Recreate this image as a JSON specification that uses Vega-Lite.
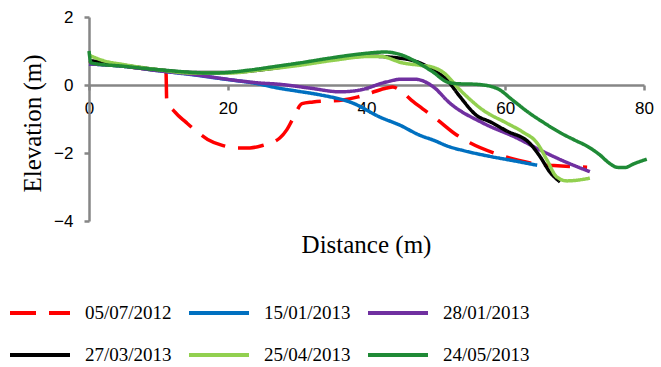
{
  "$schema": "https://vega.github.io/schema/vega-lite/v6.json",
  "width": 555,
  "height": 204,
  "autosize": "none",
  "padding": {"left": 89, "top": 17, "right": 17, "bottom": 146},
  "background": "white",
  "config": {
    "view": {"stroke": null},
    "axis": {
      "domainColor": "#868686",
      "domainWidth": 2.5,
      "tickColor": "#868686",
      "tickWidth": 2.5,
      "tickSize": 5,
      "grid": false,
      "labelFont": "Liberation Sans",
      "labelFontSize": 17,
      "labelColor": "#000000",
      "labelFlush": false,
      "titleFont": "Liberation Serif",
      "titleFontSize": 25,
      "titleFontWeight": "normal",
      "titleColor": "#000000"
    },
    "legend": {
      "title": null,
      "orient": "none",
      "direction": "horizontal",
      "legendX": -81,
      "legendY": 264,
      "columns": 3,
      "columnPadding": 9,
      "rowPadding": 0,
      "symbolType": "stroke",
      "symbolSize": 3600,
      "symbolStrokeWidth": 4,
      "labelOffset": 13,
      "labelFont": "Liberation Serif",
      "labelFontSize": 19,
      "labelColor": "#000000",
      "labelLimit": 200
    }
  },
  "data": {
    "values": [
      {"date": "05/07/2012", "d": 0, "e": 0.7},
      {"date": "05/07/2012", "d": 5, "e": 0.55},
      {"date": "05/07/2012", "d": 10, "e": 0.42},
      {"date": "05/07/2012", "d": 11.1, "e": 0.38},
      {"date": "05/07/2012", "d": 11.2, "e": -0.44},
      {"date": "05/07/2012", "d": 12.4, "e": -0.8},
      {"date": "05/07/2012", "d": 14, "e": -1.1},
      {"date": "05/07/2012", "d": 15.6, "e": -1.38},
      {"date": "05/07/2012", "d": 17.1, "e": -1.6},
      {"date": "05/07/2012", "d": 19, "e": -1.76},
      {"date": "05/07/2012", "d": 21.3, "e": -1.85},
      {"date": "05/07/2012", "d": 23.2, "e": -1.85},
      {"date": "05/07/2012", "d": 25, "e": -1.78},
      {"date": "05/07/2012", "d": 27.5, "e": -1.56},
      {"date": "05/07/2012", "d": 28.5, "e": -1.32},
      {"date": "05/07/2012", "d": 29.5, "e": -0.95},
      {"date": "05/07/2012", "d": 30.7, "e": -0.55},
      {"date": "05/07/2012", "d": 32.3, "e": -0.5},
      {"date": "05/07/2012", "d": 36.6, "e": -0.44},
      {"date": "05/07/2012", "d": 38.8, "e": -0.35},
      {"date": "05/07/2012", "d": 40.8, "e": -0.22},
      {"date": "05/07/2012", "d": 42.9, "e": -0.09},
      {"date": "05/07/2012", "d": 43.8, "e": -0.06},
      {"date": "05/07/2012", "d": 44.8, "e": -0.15},
      {"date": "05/07/2012", "d": 46.5, "e": -0.45},
      {"date": "05/07/2012", "d": 48.1, "e": -0.7},
      {"date": "05/07/2012", "d": 49.9, "e": -0.97},
      {"date": "05/07/2012", "d": 53, "e": -1.47},
      {"date": "05/07/2012", "d": 54.9, "e": -1.7},
      {"date": "05/07/2012", "d": 58.8, "e": -2.03},
      {"date": "05/07/2012", "d": 62, "e": -2.22},
      {"date": "05/07/2012", "d": 64.6, "e": -2.33},
      {"date": "05/07/2012", "d": 67, "e": -2.37},
      {"date": "05/07/2012", "d": 71.8, "e": -2.42},

      {"date": "15/01/2013", "d": 0, "e": 0.62},
      {"date": "15/01/2013", "d": 5, "e": 0.55},
      {"date": "15/01/2013", "d": 10, "e": 0.42},
      {"date": "15/01/2013", "d": 15, "e": 0.3},
      {"date": "15/01/2013", "d": 20, "e": 0.16},
      {"date": "15/01/2013", "d": 24, "e": 0.05},
      {"date": "15/01/2013", "d": 27, "e": -0.08},
      {"date": "15/01/2013", "d": 30, "e": -0.18},
      {"date": "15/01/2013", "d": 33.3, "e": -0.29},
      {"date": "15/01/2013", "d": 38, "e": -0.53},
      {"date": "15/01/2013", "d": 42, "e": -0.95},
      {"date": "15/01/2013", "d": 44.8, "e": -1.18},
      {"date": "15/01/2013", "d": 47.7, "e": -1.48},
      {"date": "15/01/2013", "d": 49.6, "e": -1.62},
      {"date": "15/01/2013", "d": 52, "e": -1.82},
      {"date": "15/01/2013", "d": 54, "e": -1.93},
      {"date": "15/01/2013", "d": 57.8, "e": -2.1},
      {"date": "15/01/2013", "d": 61, "e": -2.22},
      {"date": "15/01/2013", "d": 64.6, "e": -2.36},

      {"date": "28/01/2013", "d": 0, "e": 0.62},
      {"date": "28/01/2013", "d": 5, "e": 0.55},
      {"date": "28/01/2013", "d": 10, "e": 0.42},
      {"date": "28/01/2013", "d": 15, "e": 0.31},
      {"date": "28/01/2013", "d": 17.4, "e": 0.24},
      {"date": "28/01/2013", "d": 24.6, "e": 0.06},
      {"date": "28/01/2013", "d": 27.5, "e": 0.02},
      {"date": "28/01/2013", "d": 31.8, "e": -0.09},
      {"date": "28/01/2013", "d": 36.2, "e": -0.2},
      {"date": "28/01/2013", "d": 39, "e": -0.15},
      {"date": "28/01/2013", "d": 42.9, "e": 0.09},
      {"date": "28/01/2013", "d": 45, "e": 0.17},
      {"date": "28/01/2013", "d": 47, "e": 0.17},
      {"date": "28/01/2013", "d": 49.6, "e": -0.05},
      {"date": "28/01/2013", "d": 52, "e": -0.53},
      {"date": "28/01/2013", "d": 56.8, "e": -1.12},
      {"date": "28/01/2013", "d": 61.7, "e": -1.56},
      {"date": "28/01/2013", "d": 65, "e": -1.91},
      {"date": "28/01/2013", "d": 68, "e": -2.2},
      {"date": "28/01/2013", "d": 72.2, "e": -2.55},

      {"date": "27/03/2013", "d": 0, "e": 0.72},
      {"date": "27/03/2013", "d": 5, "e": 0.58},
      {"date": "27/03/2013", "d": 10, "e": 0.45},
      {"date": "27/03/2013", "d": 15, "e": 0.37},
      {"date": "27/03/2013", "d": 20, "e": 0.37},
      {"date": "27/03/2013", "d": 25, "e": 0.45},
      {"date": "27/03/2013", "d": 30, "e": 0.6},
      {"date": "27/03/2013", "d": 35, "e": 0.75},
      {"date": "27/03/2013", "d": 40, "e": 0.85},
      {"date": "27/03/2013", "d": 44.8, "e": 0.79},
      {"date": "27/03/2013", "d": 47.7, "e": 0.65},
      {"date": "27/03/2013", "d": 49.6, "e": 0.44},
      {"date": "27/03/2013", "d": 51.6, "e": 0.15},
      {"date": "27/03/2013", "d": 53.5, "e": -0.35},
      {"date": "27/03/2013", "d": 55.9, "e": -0.9},
      {"date": "27/03/2013", "d": 57.8, "e": -1.08},
      {"date": "27/03/2013", "d": 60.2, "e": -1.35},
      {"date": "27/03/2013", "d": 63.5, "e": -1.71},
      {"date": "27/03/2013", "d": 65, "e": -2.1},
      {"date": "27/03/2013", "d": 66.4, "e": -2.55},
      {"date": "27/03/2013", "d": 67.9, "e": -2.85},

      {"date": "25/04/2013", "d": 0, "e": 0.88},
      {"date": "25/04/2013", "d": 2, "e": 0.72},
      {"date": "25/04/2013", "d": 5, "e": 0.6},
      {"date": "25/04/2013", "d": 10, "e": 0.45},
      {"date": "25/04/2013", "d": 15, "e": 0.35},
      {"date": "25/04/2013", "d": 20, "e": 0.35},
      {"date": "25/04/2013", "d": 25, "e": 0.45},
      {"date": "25/04/2013", "d": 30, "e": 0.57},
      {"date": "25/04/2013", "d": 35, "e": 0.72},
      {"date": "25/04/2013", "d": 40.5, "e": 0.84},
      {"date": "25/04/2013", "d": 42, "e": 0.84},
      {"date": "25/04/2013", "d": 45.2, "e": 0.65},
      {"date": "25/04/2013", "d": 47.7, "e": 0.58},
      {"date": "25/04/2013", "d": 49.6, "e": 0.52},
      {"date": "25/04/2013", "d": 51, "e": 0.38},
      {"date": "25/04/2013", "d": 53.5, "e": -0.15},
      {"date": "25/04/2013", "d": 56.8, "e": -0.74},
      {"date": "25/04/2013", "d": 60.2, "e": -1.12},
      {"date": "25/04/2013", "d": 62.5, "e": -1.38},
      {"date": "25/04/2013", "d": 64.6, "e": -1.71},
      {"date": "25/04/2013", "d": 66, "e": -2.2},
      {"date": "25/04/2013", "d": 67.4, "e": -2.7},
      {"date": "25/04/2013", "d": 68.9, "e": -2.82},
      {"date": "25/04/2013", "d": 72.2, "e": -2.74},

      {"date": "24/05/2013", "d": 0, "e": 1.0},
      {"date": "24/05/2013", "d": 0.3, "e": 0.65},
      {"date": "24/05/2013", "d": 5, "e": 0.55},
      {"date": "24/05/2013", "d": 10, "e": 0.45},
      {"date": "24/05/2013", "d": 15, "e": 0.37},
      {"date": "24/05/2013", "d": 17.4, "e": 0.35},
      {"date": "24/05/2013", "d": 20, "e": 0.37},
      {"date": "24/05/2013", "d": 23.2, "e": 0.44},
      {"date": "24/05/2013", "d": 27, "e": 0.55},
      {"date": "24/05/2013", "d": 30.4, "e": 0.65},
      {"date": "24/05/2013", "d": 34.7, "e": 0.79},
      {"date": "24/05/2013", "d": 39, "e": 0.91},
      {"date": "24/05/2013", "d": 42.7, "e": 0.97},
      {"date": "24/05/2013", "d": 44.8, "e": 0.9},
      {"date": "24/05/2013", "d": 47.7, "e": 0.62},
      {"date": "24/05/2013", "d": 49.6, "e": 0.38},
      {"date": "24/05/2013", "d": 51.6, "e": 0.09},
      {"date": "24/05/2013", "d": 53, "e": 0.04},
      {"date": "24/05/2013", "d": 55.9, "e": 0.02},
      {"date": "24/05/2013", "d": 58.8, "e": -0.1},
      {"date": "24/05/2013", "d": 61.1, "e": -0.45},
      {"date": "24/05/2013", "d": 63.3, "e": -0.8},
      {"date": "24/05/2013", "d": 65.5, "e": -1.1},
      {"date": "24/05/2013", "d": 67.9, "e": -1.4},
      {"date": "24/05/2013", "d": 70, "e": -1.62},
      {"date": "24/05/2013", "d": 71.8, "e": -1.8},
      {"date": "24/05/2013", "d": 73.6, "e": -2.05},
      {"date": "24/05/2013", "d": 75, "e": -2.3},
      {"date": "24/05/2013", "d": 76.1, "e": -2.42},
      {"date": "24/05/2013", "d": 77.2, "e": -2.43},
      {"date": "24/05/2013", "d": 78.5, "e": -2.32},
      {"date": "24/05/2013", "d": 80.4, "e": -2.18}
    ]
  },
  "mark": {"type": "line", "strokeWidth": 3.5, "interpolate": "monotone", "clip": false},
  "encoding": {
    "x": {
      "field": "d",
      "type": "quantitative",
      "scale": {"domain": [0, 80], "nice": false, "zero": false},
      "axis": {
        "values": [0, 20, 40, 60, 80],
        "offset": -136,
        "labelPadding": 10,
        "title": "Distance (m)",
        "titleBaseline": "alphabetic",
        "titleY": 167,
        "titleX": 277
      }
    },
    "y": {
      "field": "e",
      "type": "quantitative",
      "scale": {"domain": [-4, 2], "nice": false},
      "axis": {
        "values": [-4, -2, 0, 2],
        "labelPadding": 11,
        "title": "Elevation (m)",
        "titleBaseline": "middle",
        "titleX": -57,
        "titleY": 106
      }
    },
    "color": {
      "field": "date",
      "type": "nominal",
      "sort": null,
      "scale": {
        "domain": ["05/07/2012", "15/01/2013", "28/01/2013", "27/03/2013", "25/04/2013", "24/05/2013"],
        "range": ["#FF0000", "#0070C0", "#7030A0", "#000000", "#92D050", "#1F8A36"]
      }
    },
    "strokeDash": {
      "field": "date",
      "type": "nominal",
      "sort": null,
      "scale": {
        "domain": ["05/07/2012", "15/01/2013", "28/01/2013", "27/03/2013", "25/04/2013", "24/05/2013"],
        "range": [[26, 13], [1, 0], [1, 0], [1, 0], [1, 0], [1, 0]]
      }
    }
  }
}
